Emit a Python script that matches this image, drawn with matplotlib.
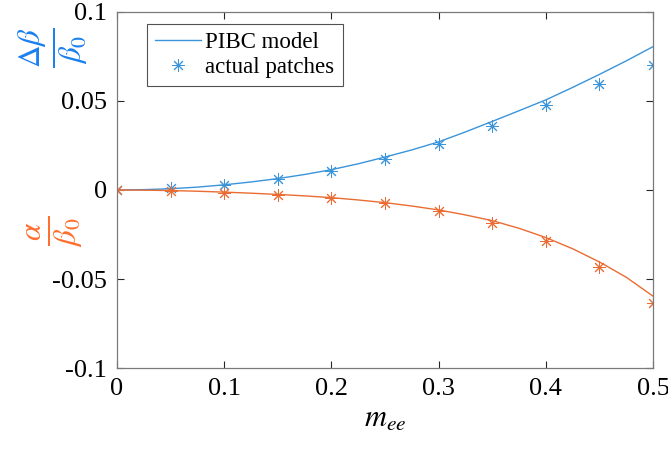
import matplotlib
matplotlib.use('Agg')
import matplotlib.pyplot as plt

# model curves (PIBC model)
x_model = [0, 0.025, 0.05, 0.075, 0.1, 0.125, 0.15, 0.175, 0.2, 0.225, 0.25,
           0.275, 0.3, 0.325, 0.35, 0.375, 0.4, 0.425, 0.45, 0.475, 0.5]
dbeta_model = [0, 0.0002, 0.0007, 0.0016, 0.0029, 0.0045, 0.0064, 0.0087, 0.0114,
               0.0147, 0.0185, 0.0225, 0.0270, 0.0326, 0.0385, 0.0445, 0.0506,
               0.0576, 0.0649, 0.0725, 0.0805]
alpha_model = [0, -0.0001, -0.0003, -0.0007, -0.0012, -0.0018, -0.0025, -0.0033,
               -0.0043, -0.0056, -0.0071, -0.009, -0.0112, -0.014, -0.0172,
               -0.0215, -0.0267, -0.033, -0.0404, -0.049, -0.0596]

# actual patches
x_pts = [0, 0.05, 0.1, 0.15, 0.2, 0.25, 0.3, 0.35, 0.4, 0.45, 0.5]
dbeta_pts = [0, 0.001, 0.0028, 0.006, 0.0108, 0.0172, 0.0257, 0.036, 0.0476, 0.0596, 0.0702]
alpha_pts = [0, -0.0008, -0.0015, -0.003, -0.0045, -0.0075, -0.0118, -0.0188, -0.0289, -0.0435, -0.0635]

blue = '#3A94DA'
orange = '#EA6C33'

plt.rcParams['font.family'] = ['Liberation Serif', 'DejaVu Serif']
plt.rcParams['mathtext.fontset'] = 'stix'

fig = plt.figure(figsize=(6.68, 4.53), dpi=100)
ax = fig.add_axes([0.175, 0.1876, 0.8025, 0.786])

star = (8, 2, 0)
ax.plot(x_model, dbeta_model, color=blue, lw=1, label='PIBC model')
ax.plot(x_pts, dbeta_pts, ls='none', marker=star, ms=9, mew=0.7, color=blue,
        label='actual patches')
ax.plot(x_model, alpha_model, color=orange, lw=1)
ax.plot(x_pts, alpha_pts, ls='none', marker=star, ms=9, mew=0.7, color=orange)

ax.set_xlim(0, 0.5)
ax.set_ylim(-0.1, 0.1)
ax.set_xticks([0, 0.1, 0.2, 0.3, 0.4, 0.5])
ax.set_xticklabels(['0', '0.1', '0.2', '0.3', '0.4', '0.5'])
ax.set_yticks([-0.1, -0.05, 0, 0.05, 0.1])
ax.set_yticklabels(['-0.1', '-0.05', '0', '0.05', '0.1'])
ax.tick_params(direction='in', top=True, right=True, length=5, width=0.8,
               color='#262626', labelsize=19, pad=7)
for s in ax.spines.values():
    s.set_color('#7a7a7a')
    s.set_linewidth(0.9)

ax.set_xlabel(r'$m_{ee}$', fontsize=22, labelpad=4)

fig.text(0.08, 0.895, r'$\frac{\Delta\beta}{\beta_0}$', color='#1A7FF0',
         fontsize=32, rotation=90, ha='center', va='center')
fig.text(0.083, 0.49, r'$\frac{\alpha}{\beta_0}$', color='#FF6F2E',
         fontsize=32, rotation=90, ha='center', va='center')

leg = ax.legend(loc='upper left', bbox_to_anchor=(0.056, 0.966), fontsize=16.5,
                frameon=True, fancybox=False, handlelength=2.0,
                borderpad=0.35, labelspacing=0.15, handletextpad=0.2,
                borderaxespad=0)
leg.get_frame().set_edgecolor('#262626')
leg.get_frame().set_linewidth(0.8)

fig.savefig('out.png', dpi=100)
